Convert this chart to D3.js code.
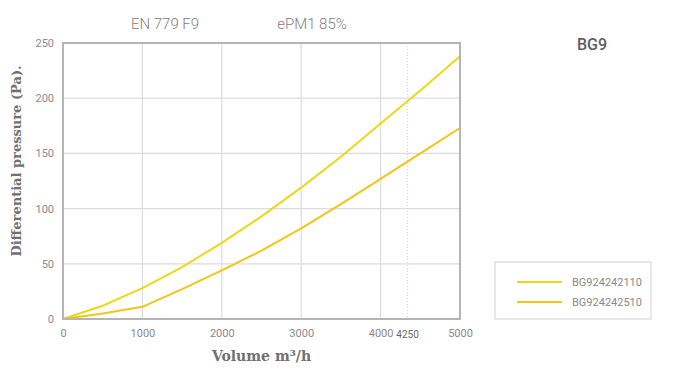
<!DOCTYPE html>
<html>
<head>
<meta charset="utf-8">
<script src="https://cdn.jsdelivr.net/npm/d3@7"></script>
<style>
  body { margin: 0; background: #fff; }
  svg text { font-family: Roboto, "Noto Sans", sans-serif; }
</style>
</head>
<body>
<div id="chart"></div>
<script>
// ── data ──────────────────────────────────────────────────────────────
const volume   = [0, 500, 1000, 1500, 2000, 2500, 3000, 3500, 4000, 4500, 5000];
const bg110    = [0, 12, 28, 47, 69, 93, 119, 147, 177, 207, 238];
const bg510    = [0, 5, 11, 27, 44, 62, 82, 104, 127, 150, 173];
const seriesNames = ["BG924242110", "BG924242510"];
const xTicks   = [0, 1000, 2000, 3000, 4000, 5000];
const yTicks   = [0, 50, 100, 150, 200, 250];
const markLabel = "4250";
const markAt    = 4340;   // where the dotted marker sits on the picture's axis

const colors = ["#ecd817", "#f3c516"];

// ── layout ────────────────────────────────────────────────────────────
const W = 690, H = 371;
const margin = { top: 43, right: 230, bottom: 52, left: 63 };
const width  = W - margin.left - margin.right;
const height = H - margin.top - margin.bottom;

const svg = d3.select("#chart").append("svg")
  .attr("width", W).attr("height", H);

const g = svg.append("g")
  .attr("transform", `translate(${margin.left},${margin.top})`);

const x = d3.scaleLinear().domain([0, 5000]).range([0, width]);
const y = d3.scaleLinear().domain([0, 250]).range([height, 0]);

// grid
g.append("g")
  .selectAll("line")
  .data(xTicks.slice(1, -1))
  .join("line")
    .attr("x1", d => x(d)).attr("x2", d => x(d))
    .attr("y1", 0).attr("y2", height)
    .attr("stroke", "#dcdcdc").attr("stroke-width", 1.2);

g.append("g")
  .selectAll("line")
  .data(yTicks.slice(1, -1))
  .join("line")
    .attr("x1", 0).attr("x2", width)
    .attr("y1", d => y(d)).attr("y2", d => y(d))
    .attr("stroke", "#dcdcdc").attr("stroke-width", 1.2);

// dotted 4250 marker
g.append("line")
  .attr("x1", x(markAt)).attr("x2", x(markAt))
  .attr("y1", 0).attr("y2", height)
  .attr("stroke", "#cfcfcf").attr("stroke-width", 1)
  .attr("stroke-dasharray", "1,2");

// lines
const line = d3.line()
  .x((d, i) => x(volume[i]))
  .y(d => y(d));

[bg110, bg510].forEach((vals, i) => {
  g.append("path")
    .datum(vals)
    .attr("fill", "none")
    .attr("stroke", colors[i])
    .attr("stroke-width", 2)
    .attr("stroke-linejoin", "round")
    .attr("d", line);
});

// frame
g.append("rect")
  .attr("x", 0).attr("y", 0)
  .attr("width", width).attr("height", height)
  .attr("fill", "none")
  .attr("stroke", "#b4b4b4").attr("stroke-width", 2);

// axes (labels only)
const xAxis = g.append("g")
  .attr("transform", `translate(0,${height})`)
  .call(d3.axisBottom(x).tickValues(xTicks).tickFormat(d3.format("d"))
    .tickSize(0).tickPadding(10));
xAxis.select(".domain").remove();
xAxis.selectAll("text")
  .attr("fill", "#8a8a8a").style("font-size", "11px");

const yAxis = g.append("g")
  .call(d3.axisLeft(y).tickValues(yTicks).tickSize(0).tickPadding(9));
yAxis.select(".domain").remove();
yAxis.selectAll("text")
  .attr("fill", "#8a8a8a").style("font-size", "11px");

g.append("text")
  .attr("x", x(markAt)).attr("y", height + 19)
  .attr("text-anchor", "middle")
  .attr("fill", "#666")
  .style("font-size", "10px")
  .text(markLabel);

// axis titles
g.append("text")
  .attr("x", width / 2).attr("y", height + 42)
  .attr("text-anchor", "middle")
  .attr("fill", "#707070")
  .style("font-family", "'DejaVu Serif', serif")
  .style("font-weight", "bold")
  .style("font-size", "14px")
  .text("Volume m³/h");

g.append("text")
  .attr("transform", "rotate(-90)")
  .attr("x", -height / 2 + 20).attr("y", -42)
  .attr("text-anchor", "middle")
  .attr("fill", "#707070")
  .style("font-family", "'DejaVu Serif', serif")
  .style("font-weight", "bold")
  .style("font-size", "13px")
  .text("Differential pressure (Pa).");

// top titles
svg.append("text")
  .attr("x", 165).attr("y", 29)
  .attr("text-anchor", "middle")
  .attr("fill", "#808080")
  .style("font-size", "15px").style("font-weight", 300)
  .text("EN 779 F9");

svg.append("text")
  .attr("x", 312).attr("y", 29)
  .attr("text-anchor", "middle")
  .attr("fill", "#808080")
  .style("font-size", "15px").style("font-weight", 300)
  .text("ePM1 85%");

svg.append("text")
  .attr("x", 592).attr("y", 50)
  .attr("text-anchor", "middle")
  .attr("fill", "#5e5e5e")
  .style("font-size", "16px").style("font-weight", 500)
  .text("BG9");

// legend
const leg = svg.append("g").attr("transform", "translate(495,262)");
leg.append("rect")
  .attr("width", 156).attr("height", 57)
  .attr("fill", "#fff")
  .attr("stroke", "#d0d0d0").attr("stroke-width", 1);

seriesNames.forEach((name, i) => {
  const ly = 20 + i * 20;
  leg.append("line")
    .attr("x1", 22).attr("x2", 67)
    .attr("y1", ly).attr("y2", ly)
    .attr("stroke", colors[i]).attr("stroke-width", 2);
  leg.append("text")
    .attr("x", 77).attr("y", ly + 4)
    .attr("fill", "#8a8a8a")
    .style("font-size", "11px")
    .text(name);
});
</script>
</body>
</html>
